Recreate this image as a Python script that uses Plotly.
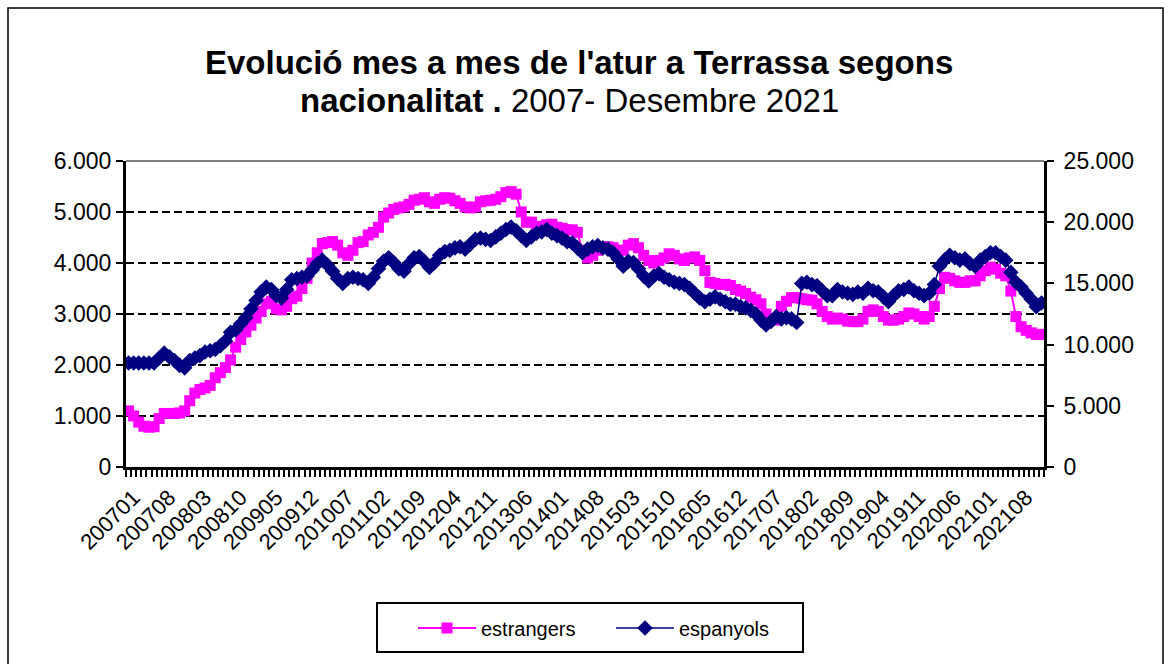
import plotly.graph_objects as go

# ---------------- data ----------------
years = list(range(2007, 2022))
categories = [f"{y}{m:02d}" for y in years for m in range(1, 13)]

tick_labels = ["200701", "200708", "200803", "200810", "200905", "200912", "201007",
               "201102", "201109", "201204", "201211", "201306", "201401", "201408",
               "201503", "201510", "201605", "201612", "201707", "201802", "201809",
               "201904", "201911", "202006", "202101", "202108"]

estrangers = [
    1100, 1000, 880, 800, 780, 790, 950, 1050, 1050, 1050, 1060, 1100,
    1300, 1450, 1520, 1550, 1600, 1750, 1850, 1950, 2100, 2350, 2500, 2650,
    2780, 2920, 3050, 3200, 3250, 3100, 3080, 3150, 3300, 3350, 3500, 3700,
    4000, 4200, 4380, 4400, 4420, 4350, 4200, 4150, 4250, 4400, 4420, 4550,
    4600, 4700, 4900, 4980, 5050, 5080, 5100, 5150, 5230, 5250, 5280, 5200,
    5170, 5250, 5280, 5270, 5220, 5170, 5100, 5080, 5100, 5200, 5220, 5230,
    5250, 5300, 5380, 5400, 5350, 5000, 4800, 4800, 4720, 4650, 4750, 4760,
    4700, 4680, 4650, 4650, 4600, 4250, 4100, 4150, 4250, 4300, 4320, 4300,
    4250, 4250, 4350, 4380, 4300, 4150, 4050, 4000, 4050, 4100, 4180, 4150,
    4080, 4050, 4100, 4120, 4050, 3850, 3620, 3600, 3580, 3580, 3560, 3480,
    3450, 3400, 3330, 3280, 3200, 3000, 2900, 2880, 3150, 3250, 3320, 3320,
    3300, 3280, 3270, 3200, 3050, 2950, 2900, 2920, 2900, 2860, 2850, 2850,
    2900, 3050, 3080, 3050, 2950, 2880, 2880, 2900, 2950, 3020, 3000, 2950,
    2900, 2950, 3150, 3500, 3720, 3700, 3650, 3620, 3620, 3650, 3650, 3750,
    3850, 3920, 3880, 3800, 3750, 3450, 2950, 2750, 2680, 2630, 2600, 2600,
]

espanyols = [
    8500, 8500, 8500, 8500, 8500, 8500, 8900, 9300, 9000, 8700, 8300, 8100,
    8700, 8900, 9100, 9400, 9500, 9600, 9900, 10300, 11000, 11200, 11700, 12200,
    12900, 13600, 14300, 14700, 14500, 14000, 13800, 14500, 15300, 15400, 15500, 15600,
    16100, 16600, 16900, 16500, 16000, 15400, 15000, 15400, 15500, 15400, 15300, 15000,
    15500, 16200, 16800, 17100, 16700, 16200, 16000, 16600, 17100, 17200, 16800, 16300,
    16700, 17300, 17600, 17700, 17900, 18000, 17800, 18200, 18600, 18700, 18600, 18500,
    18800, 19100, 19400, 19600, 19300, 18900, 18500, 18800, 19100, 19200, 19400, 19100,
    18900, 18700, 18400, 18300, 17900, 17500, 17800, 18000, 18100, 17900, 17800, 17500,
    17000, 16400, 16800, 16700, 16200, 15600, 15200, 15600, 15800, 15500, 15300, 15100,
    15000, 14900, 14600, 14200, 13800, 13500, 13700, 13900, 13700, 13500, 13300, 13300,
    13100, 13000, 12800, 12500, 12000, 11600, 11900, 12300, 12100, 12200, 12100, 11800,
    15000, 15100, 14900, 14800, 14400, 14000, 14000, 14500, 14300, 14200, 14100, 14300,
    14200, 14600, 14400, 14300, 13900, 13500, 14000, 14400, 14500, 14700, 14400, 14200,
    14000, 14200, 14900, 16400, 16900, 17300, 17100, 16900, 17000, 16600, 16400, 16900,
    17200, 17500, 17500, 17200, 16900, 15900, 15100, 14700, 14200, 13700, 13100, 13400,
]

left_ticks = [0, 1000, 2000, 3000, 4000, 5000, 6000]
right_ticks = [0, 5000, 10000, 15000, 20000, 25000]

# ---------------- figure ----------------
FONT = "Liberation Sans, Arial, sans-serif"
W, H = 1170, 664
L, R, T, B = 126, 126, 161, 197
PW, PH = W - L - R, H - T - B


def px(xp):
    return (xp - L) / PW


def py(yp):
    return (H - B - yp) / PH


ticktext = [c if c in tick_labels else "" for c in categories]

fig = go.Figure()
fig.add_trace(go.Scatter(
    x=categories, y=estrangers, name="estrangers", mode="lines+markers",
    line=dict(color="#FF00FF", width=2),
    marker=dict(symbol="square", size=11, color="#FF00FF"),
    yaxis="y",
))
fig.add_trace(go.Scatter(
    x=categories, y=espanyols, name="espanyols", mode="lines+markers",
    line=dict(color="#000080", width=1.5),
    marker=dict(symbol="diamond", size=12, color="#000080"),
    yaxis="y2",
))

fig.update_layout(
    width=W, height=H,
    margin=dict(l=L, r=R, t=T, b=B),
    paper_bgcolor="white", plot_bgcolor="white",
    font=dict(family=FONT, color="black"),
    separators=",.",
    showlegend=True,
    xaxis=dict(
        type="category", categoryorder="array", categoryarray=categories,
        tickmode="array", tickvals=categories, ticktext=ticktext,
        tickangle=-45, tickfont=dict(size=22, family=FONT),
        ticks="outside", ticklen=7, tickwidth=2, tickcolor="black",
        tickson="boundaries", ticklabelstandoff=6, ticklabelshift=5,
        showline=True, linecolor="black", linewidth=3,
        showgrid=False, zeroline=False,
        range=[-0.5, len(categories) - 0.5],
    ),
    yaxis=dict(
        range=[0, 6000], tickvals=left_ticks, tickformat=",.0f",
        tickfont=dict(size=23, family=FONT),
        ticks="outside", ticklen=7, tickwidth=2, tickcolor="black",
        showline=True, linecolor="black", linewidth=3,
        showgrid=True, gridcolor="black", griddash="8px,4px", gridwidth=2,
        zeroline=False,
    ),
    yaxis2=dict(
        range=[0, 25000], tickvals=right_ticks, tickformat=",.0f",
        overlaying="y", side="right",
        tickfont=dict(size=23, family=FONT),
        ticks="outside", ticklen=7, tickwidth=2, tickcolor="black",
        ticklabelstandoff=5,
        showline=True, linecolor="black", linewidth=3,
        showgrid=False, zeroline=False,
    ),
    legend=dict(
        orientation="h", x=px(413), xanchor="left", y=py(628), yanchor="middle",
        borderwidth=0, bgcolor="rgba(0,0,0,0)",
        font=dict(size=20, family=FONT),
        itemwidth=58, entrywidth=125,
    ),
)

# Title (two lines)
fig.add_annotation(
    text="<b>Evolució mes a mes de l'atur a Terrassa segons</b>",
    xref="paper", yref="paper", x=px(578.5), y=py(62),
    xanchor="center", yanchor="middle", showarrow=False,
    font=dict(size=33, family=FONT, color="black"),
)
fig.add_annotation(
    text="<b>nacionalitat .</b> 2007- Desembre 2021",
    xref="paper", yref="paper", x=px(569.5), y=py(100),
    xanchor="center", yanchor="middle", showarrow=False,
    font=dict(size=33, family=FONT, color="black"),
)

# top border of plot area (gray)
fig.add_shape(type="line", xref="paper", yref="paper", x0=0, x1=1, y0=1, y1=1,
              line=dict(color="#808080", width=2))
# legend frame
fig.add_shape(type="rect", xref="paper", yref="paper",
              x0=px(377), x1=px(803), y0=py(652), y1=py(603),
              line=dict(color="black", width=2), layer="below")
# outer chart frame
fig.add_shape(type="rect", xref="paper", yref="paper",
              x0=px(8), x1=px(1163), y0=py(680), y1=py(8),
              line=dict(color="black", width=1.5), layer="below")

fig.write_html("out.html", config={"displayModeBar": False},
               post_script="document.body.style.margin='0';")
